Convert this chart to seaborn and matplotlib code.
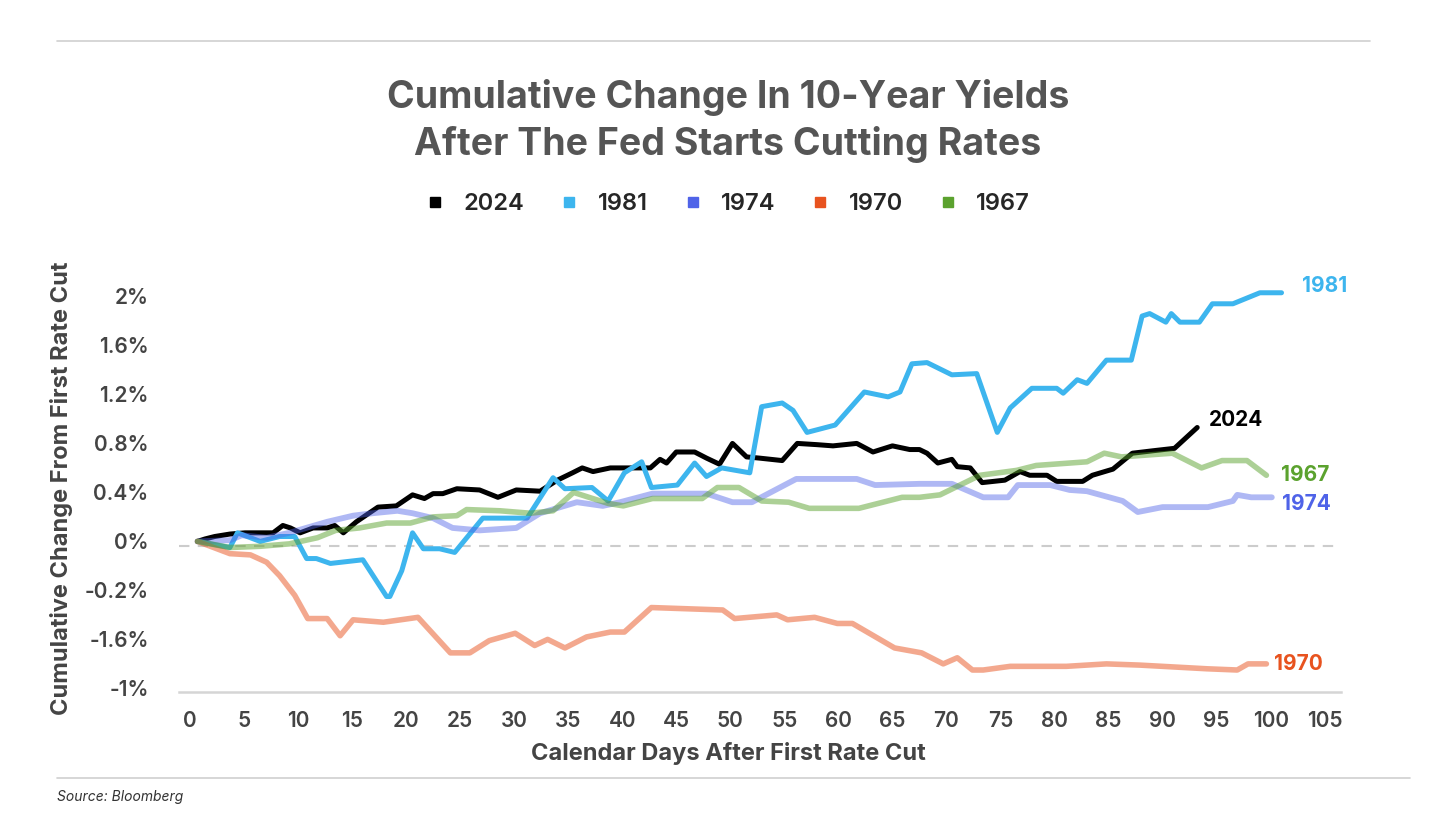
import pandas as pd
import matplotlib
matplotlib.use("Agg")
import matplotlib.pyplot as plt
from matplotlib.lines import Line2D
import seaborn as sns

# Series (calendar days, cumulative change in %)
years = ["2024", "1981", "1974", "1970", "1967"]

days_2024 = [0.7, 1.4, 2.3, 3.7, 5.1, 6.5, 7.7, 8.6, 9.3, 10.2,
             11.4, 12.7, 13.4, 14.2, 15.4, 17.4, 19.1, 20.6, 21.7, 22.5,
             23.4, 24.7, 26.8, 28.5, 30.2, 32.4, 34, 35.4, 36.3, 37.3,
             38.9, 40.7, 42.6, 43.5, 44.1, 45, 46.7, 47.8, 49, 50.2,
             51.5, 52.7, 54.8, 56.2, 58, 59.5, 61.7, 63.2, 65, 66.6,
             67.5, 68.2, 69.2, 70.5, 71, 72.2, 73.3, 75.4, 76.8, 77.7,
             79.3, 80.2, 82.6, 83.5, 85.4, 87.2, 89.1, 91.1, 93.2]
vals_2024 = [0, .02, .04, .06, .07, .07, .07, .13, .11, .07,
             .11, .11, .13, .07, .16, .28, .29, .38, .35, .39,
             .39, .43, .42, .36, .42, .41, .50, .56, .60, .57,
             .60, .60, .60, .67, .64, .73, .73, .68, .63, .80,
             .69, .68, .66, .80, .79, .78, .80, .73, .78, .75,
             .75, .72, .64, .67, .61, .60, .48, .50, .57, .54,
             .54, .49, .49, .54, .59, .72, .74, .76, .93]

days_1981 = [0.7, 3.7, 4.4, 6.5, 8.3, 9.7, 10.8, 11.7, 13, 16,
             18.2, 18.5, 19.6, 20.6, 21.6, 23.1, 24.5, 27.1, 31.2, 33.6,
             34.7, 37.2, 38.7, 40.2, 41.8, 42.7, 45.1, 46.7, 47.8, 49.2,
             51.8, 52.9, 54.8, 55.8, 57.1, 59.7, 62.4, 64.6, 65.7, 66.8,
             68.2, 70.5, 72.8, 74.7, 75.9, 77.9, 80.2, 80.8, 82.1, 83,
             84.8, 87.1, 88.1, 88.8, 90.3, 90.8, 91.6, 93.4, 94.6, 96.5,
             99, 101]
vals_1981 = [0, -.05, .07, 0, .04, .04, -.14, -.14, -.18, -.15,
             -.45, -.45, -.24, .07, -.06, -.06, -.09, .19, .19, .52,
             .43, .44, .33, .56, .65, .44, .46, .64, .53, .60,
             .56, 1.10, 1.13, 1.07, .89, .95, 1.22, 1.18, 1.22, 1.45,
             1.46, 1.36, 1.37, .89, 1.09, 1.25, 1.25, 1.21, 1.32, 1.29,
             1.48, 1.48, 1.84, 1.86, 1.79, 1.86, 1.79, 1.79, 1.94, 1.94,
             2.03, 2.03]

days_1974 = [0.7, 3.7, 4.8, 7.1, 9.2, 12.7, 15.1, 16.9, 19.2, 20.6,
             22.5, 24.3, 26.8, 30.2, 32.4, 33.9, 35.8, 38.2, 39.8, 42.8,
             47.8, 50.2, 52, 56.1, 61.7, 63.4, 67.5, 70.5, 73.4, 75.7,
             76.6, 79.6, 81.4, 83, 86.3, 87.7, 90, 94.2, 96.5, 96.9,
             98.2, 100.1]
vals_1974 = [0, .01, .05, .03, .07, .16, .21, .23, .25, .23,
             .19, .11, .09, .11, .23, .27, .32, .29, .32, .39,
             .39, .32, .32, .51, .51, .46, .47, .47, .36, .36,
             .46, .46, .42, .41, .33, .24, .28, .28, .33, .38,
             .36, .36]

days_1970 = [0.7, 3.7, 5.6, 7.1, 8.3, 9.7, 10.9, 12.7, 13.9, 15.1,
             17.9, 21.1, 24.1, 25.9, 27.7, 30.1, 31.9, 33.1, 34.7, 36.7,
             38.9, 40.2, 42.7, 49.3, 50.4, 54.3, 55.3, 57.8, 59.9, 61.3,
             65.2, 67.7, 69.7, 71, 72.4, 73.4, 75.9, 81.1, 84.8, 87.9,
             94.1, 96.9, 97.9, 99.6]
vals_1970 = [0, -.10, -.11, -.17, -.28, -.44, -.63, -.63, -.77, -.64,
             -.66, -.62, -.91, -.91, -.81, -.75, -.85, -.80, -.87, -.78,
             -.74, -.74, -.54, -.56, -.63, -.60, -.64, -.62, -.67, -.67,
             -.87, -.91, -1.00, -.95, -1.05, -1.05, -1.02, -1.02, -1.00, -1.01,
             -1.04, -1.05, -1.00, -1.00]

days_1967 = [0.7, 3.7, 6.5, 9.2, 11.8, 13.5, 15.7, 18.2, 20.4, 22.5,
             24.7, 25.6, 28.7, 31.5, 33.6, 35.5, 38.7, 40.1, 42.8, 47.4,
             48.8, 50.8, 52.9, 55.4, 57.3, 61.9, 65.9, 67.5, 69.4, 73.1,
             76.5, 78.3, 83, 84.6, 86.2, 90.9, 93.6, 95.5, 97.8, 99.6]
vals_1967 = [0, -.05, -.04, -.02, .03, .09, .11, .15, .15, .20,
             .21, .26, .25, .23, .25, .40, .31, .29, .35, .35,
             .44, .44, .33, .32, .27, .27, .36, .36, .38, .54,
             .58, .62, .65, .72, .69, .72, .60, .66, .66, .54]

x_ticks = list(range(0, 110, 5))
y_ticks = [2.0, 1.6, 1.2, 0.8, 0.4, 0.0, -0.4, -0.8, -1.2]
y_tick_labels = ["2%", "1.6%", "1.2%", "0.8%", "0.4%", "0%", "-0.2%", "-1.6%", "-1%"]

colors = {"2024": "#000000", "1981": "#3DB5EE", "1974": "#4F63E8",
          "1970": "#E8531F", "1967": "#5BA22E"}
alphas = {"2024": 1.0, "1981": 1.0, "1974": 0.45, "1970": 0.5, "1967": 0.5}
widths = {"2024": 3.6, "1981": 3.6, "1974": 4.2, "1970": 4.0, "1967": 4.0}
# label offsets (pixels) from each line's last point
label_offsets = {"2024": (12, 7), "1981": (20, 7), "1974": (10, -7),
                 "1970": (8, 0), "1967": (15, 0)}


def build_frame():
    parts = []
    for year, d, v in [("2024", days_2024, vals_2024),
                       ("1981", days_1981, vals_1981),
                       ("1974", days_1974, vals_1974),
                       ("1970", days_1970, vals_1970),
                       ("1967", days_1967, vals_1967)]:
        parts.append(pd.DataFrame({"day": d, "change": v, "year": year}))
    return pd.concat(parts, ignore_index=True)


def main():
    df = build_frame()

    sns.set_theme(style="white")
    plt.rcParams["font.family"] = ["Inter", "DejaVu Sans"]

    fig = plt.figure(figsize=(14.56, 8.19), dpi=100)
    ax = fig.add_axes([0.123, 0.155, 0.798, 0.498])

    # dashed zero reference, drawn slightly below the tick label like the source
    ax.axhline(-0.04, color="#cccccc", lw=1.5, ls=(0, (5, 4)), zorder=0)

    for year in years:
        sub = df[df["year"] == year]
        sns.lineplot(data=sub, x="day", y="change", ax=ax, color=colors[year],
                     alpha=alphas[year], lw=widths[year], estimator=None,
                     sort=False, legend=False)
        last = sub.iloc[-1]
        ax.annotate(year, (last["day"], last["change"]),
                    xytext=label_offsets[year], textcoords="offset pixels",
                    ha="left", va="center", fontsize=15, fontweight="bold",
                    color=colors[year])

    ax.set_xlim(-1, 106.5)
    ax.set_ylim(-1.23, 2.1)
    ax.set_xticks(x_ticks)
    ax.set_yticks(y_ticks)
    ax.set_yticklabels(y_tick_labels)
    ax.tick_params(axis="x", length=0, labelsize=15, labelcolor="#444444",
                   pad=14)
    ax.tick_params(axis="y", length=0, labelsize=15, labelcolor="#444444",
                   pad=22)
    for lbl in ax.get_xticklabels() + ax.get_yticklabels():
        lbl.set_fontweight("semibold")

    for side in ["top", "right", "left"]:
        ax.spines[side].set_visible(False)
    ax.spines["bottom"].set_color("#d5d5d5")
    ax.spines["bottom"].set_linewidth(1.8)

    ax.set_xlabel("Calendar Days After First Rate Cut", fontsize=17,
                  fontweight="bold", color="#444444")
    ax.xaxis.set_label_coords(0.4725, -0.122)
    ax.set_ylabel("Cumulative Change From First Rate Cut", fontsize=17,
                  fontweight="bold", color="#444444", labelpad=8)

    fig.text(0.5, 1 - 121 / 819,
             "Cumulative Change In 10-Year Yields\nAfter The Fed Starts Cutting Rates",
             ha="center", va="center", fontsize=27, fontweight="bold",
             color="#555555", linespacing=1.35)

    handles = [Line2D([], [], marker="s", ls="", markersize=7,
                      color=colors[y]) for y in years]
    fig.legend(handles, years, loc="center", ncol=5, frameon=False,
               bbox_to_anchor=(0.5, 1 - 204 / 819),
               handlelength=0.8, handletextpad=0.8, columnspacing=1.5,
               prop={"weight": "semibold", "size": 17})

    # separator rules and source note
    fig.add_artist(Line2D([57 / 1456, 1370 / 1456], [1 - 41 / 819] * 2,
                          color="#d0d0d0", lw=1.2))
    fig.add_artist(Line2D([57 / 1456, 1410 / 1456], [1 - 778 / 819] * 2,
                          color="#d0d0d0", lw=1.2))
    fig.text(57 / 1456, 1 - 797 / 819, "Source: Bloomberg", ha="left",
             va="center", fontsize=10, style="italic", color="#333333")

    fig.savefig("out.png", dpi=100)


if __name__ == "__main__":
    main()
